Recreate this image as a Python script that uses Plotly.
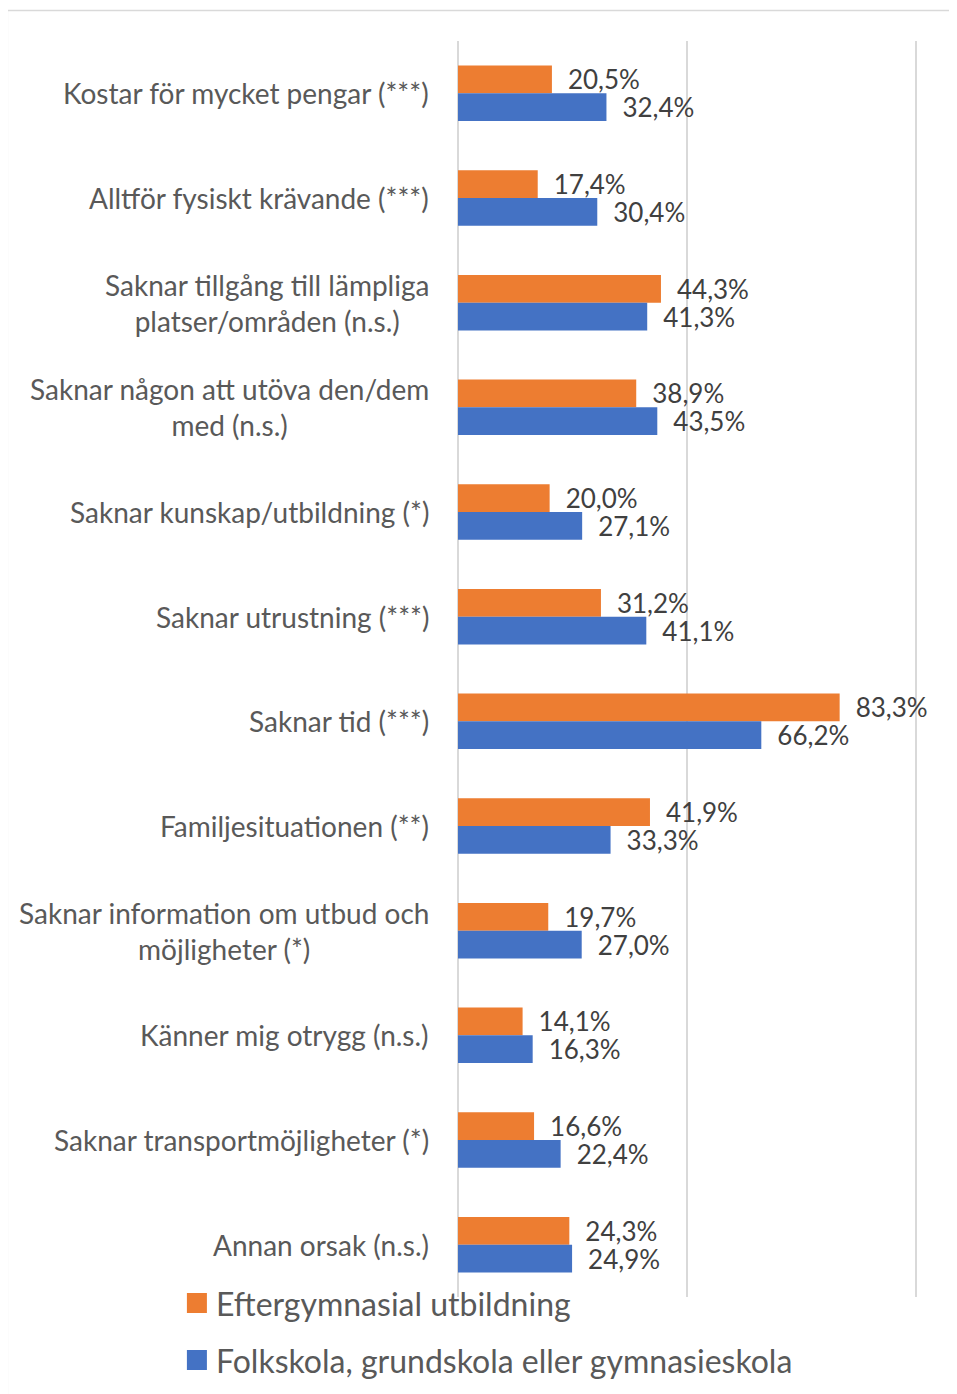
import plotly.graph_objects as go

categories = [
    "Kostar för mycket pengar (***)",
    "Alltför fysiskt krävande (***)",
    "Saknar tillgång till lämpliga<br>platser/områden (n.s.)",
    "Saknar någon att utöva den/dem<br>med (n.s.)",
    "Saknar kunskap/utbildning (*)",
    "Saknar utrustning (***)",
    "Saknar tid (***)",
    "Familjesituationen (**)",
    "Saknar information om utbud och<br>möjligheter (*)",
    "Känner mig otrygg (n.s.)",
    "Saknar transportmöjligheter (*)",
    "Annan orsak (n.s.)",
]
efter = [20.5, 17.4, 44.3, 38.9, 20.0, 31.2, 83.3, 41.9, 19.7, 14.1, 16.6, 24.3]
folk = [32.4, 30.4, 41.3, 43.5, 27.1, 41.1, 66.2, 33.3, 27.0, 16.3, 22.4, 24.9]
series_names = ["Eftergymnasial utbildning", "Folkskola, grundskola eller gymnasieskola"]
colors = ["#ED7D31", "#4472C4"]

FONT = "Lato"
TXT = "#404040"
LBL = "#595959"
GRID = "#D9D9D9"

# page geometry (screen px); the page body has an 8px margin
OFF = 8
W, H = 957 - OFF, 1394 - OFF
PL, PR100, PT, PB = 458, 916, 41, 1297
XMAX = 100.4
PR = PL + (PR100 - PL) * XMAX / 100.0
PW, PH = PR - PL, PB - PT


def px(xs):
    return (xs - PL) / PW


def py(ys):
    return (PB - ys) / PH


def fmt(v):
    return ("%.1f%%" % v).replace(".", ",")


ids = list(range(len(categories)))
fig = go.Figure()
for vals, name, col in zip([efter, folk], series_names, colors):
    fig.add_trace(go.Bar(
        y=ids, x=vals, orientation="h", name=name,
        marker=dict(color=col, line=dict(width=0)),
        text=["\u2002" + fmt(v) for v in vals], textposition="outside",
        textfont=dict(family=FONT, size=26, color=TXT),
        constraintext="none", cliponaxis=False, showlegend=False,
    ))

annotations = []
for i, c in enumerate(categories):
    annotations.append(dict(
        x=0, y=i, xref="x", yref="y", text=c, showarrow=False,
        xanchor="right", yanchor="middle", align="center", xshift=-27,
        font=dict(family=FONT, size=28, color=LBL),
    ))

shapes = [
    dict(type="line", xref="paper", yref="paper", x0=px(7.5), x1=px(970),
         y0=py(10.5), y1=py(10.5), line=dict(color=GRID, width=1.5)),
    dict(type="line", xref="paper", yref="paper", x0=px(7.5), x1=px(7.5),
         y0=py(10.5), y1=py(1400), line=dict(color=GRID, width=1.5)),
]

# legend (drawn as shapes + text)
LEG_TOP = [1293, 1350]
for k, (name, col) in enumerate(zip(series_names, colors)):
    t = LEG_TOP[k]
    shapes.append(dict(type="rect", xref="paper", yref="paper",
                       x0=px(187), x1=px(207), y0=py(t), y1=py(t + 20),
                       fillcolor=col, line=dict(width=0)))
    annotations.append(dict(x=px(214), y=py(t + 10), xref="paper", yref="paper",
                            text=name, showarrow=False, xanchor="left",
                            yanchor="middle",
                            font=dict(family=FONT, size=32, color=LBL)))

fig.update_layout(
    width=W, height=H,
    margin=dict(l=PL - OFF, r=W - (PR - OFF), t=PT - OFF, b=H - (PB - OFF)),
    paper_bgcolor="white", plot_bgcolor="white",
    barmode="group", bargap=0.47, bargroupgap=0,
    xaxis=dict(range=[0, XMAX], tickvals=[0, 50, 100], showticklabels=False,
               showgrid=True, gridcolor=GRID, gridwidth=2,
               zeroline=True, zerolinecolor=GRID, zerolinewidth=2),
    yaxis=dict(range=[len(categories) - 0.5, -0.5], showticklabels=False,
               showgrid=False, zeroline=False),
    annotations=annotations,
    shapes=shapes,
    showlegend=False,
)

fig.write_html("out.html")
